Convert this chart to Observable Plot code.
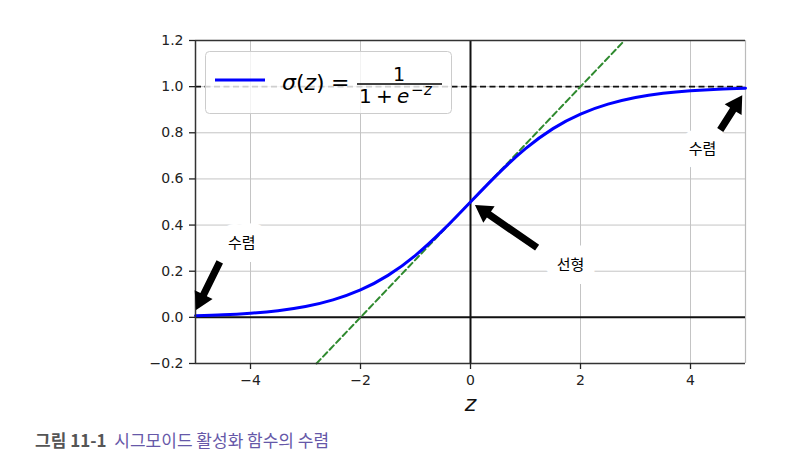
<!DOCTYPE html>
<html><head><meta charset="utf-8">
<script src="https://cdn.jsdelivr.net/npm/d3@7"></script>
<script src="https://cdn.jsdelivr.net/npm/@observablehq/plot@0.6"></script>
<style>
body{margin:0;background:#fff;}
#wrap{position:relative;width:808px;height:473px;overflow:hidden;}
#legend{position:absolute;left:0;top:0;pointer-events:none;}
#caption{position:absolute;left:35px;top:429px;font-family:"Noto Sans CJK KR","Noto Sans";font-size:17px;white-space:nowrap;line-height:22px;}
#caption b{color:#555;font-weight:700;margin-right:4px;}
#caption span{color:#6658a8;}
</style></head><body>
<div id="wrap"><div id="chart"></div>
<svg id="legend" width="808" height="420" font-family="DejaVu Sans">
  <rect x="205.5" y="51.5" width="246" height="62" rx="4" fill="white" fill-opacity="0.8" stroke="#cccccc"/>
  <line x1="215" x2="265" y1="80" y2="80" stroke="blue" stroke-width="3"/>
  <text y="90" font-size="22"><tspan x="282" font-style="italic">σ</tspan>(<tspan font-style="italic">z</tspan>)<tspan x="331">=</tspan></text>
  <line x1="357" x2="442" y1="84" y2="84" stroke="black" stroke-width="1.3"/>
  <text x="399" y="81" font-size="19" text-anchor="middle">1</text>
  <text y="103" font-size="20"><tspan x="359">1</tspan><tspan x="376">+</tspan><tspan x="397" font-style="italic">e</tspan></text>
  <text y="95" font-size="15"><tspan x="411">−</tspan><tspan x="424" font-style="italic">z</tspan></text>
</svg>
<div id="caption"><b>그림 11-1</b> <span>시그모이드 활성화 함수의 수렴</span></div>
</div>
<script>
// sigmoid
const sigZ = [-5,-4.5,-4,-3.5,-3,-2.5,-2,-1.5,-1,-0.5,0,0.5,1,1.5,2,2.5,3,3.5,4,4.5,5];
const sigY = [0.007,0.011,0.018,0.029,0.047,0.076,0.119,0.182,0.269,0.378,0.5,0.622,0.731,0.818,0.881,0.924,0.953,0.971,0.982,0.989,0.993];
// linear (tangent) dashed line endpoints
const linZ = [-2.8, 2.8];
const linY = [-0.2, 1.2];
// ticks
const xTicks = [-4,-2,0,2,4];
const yTicks = [-0.2,0,0.2,0.4,0.6,0.8,1.0,1.2];
// annotations
const annText = ["수렴","수렴","선형"];
const annZ = [-4.16, 4.22, 1.82];
const annY = [0.32, 0.73, 0.225];
const arrTailZ = [-4.55, 4.55, 1.22];
const arrTailY = [0.238, 0.81, 0.30];
const arrTipZ = [-4.98, 4.95, 0.09];
const arrTipY = [0.03, 0.96, 0.485];

const sig = sigZ.map((z,i)=>({z, y:sigY[i]}));
const lin = linZ.map((z,i)=>({z, y:linY[i]}));
const ann = annText.map((t,i)=>({t, z:annZ[i], y:annY[i]}));
const arrows = arrTailZ.map((z,i)=>({x1:z, y1:arrTailY[i], x2:arrTipZ[i], y2:arrTipY[i]}));

function arrowMark(data){
  return (index, scales) => {
    const g = d3.create("svg:g");
    const w = 3.6, hw = 10, hl = 17;
    for (const a of data){
      const x1 = scales.x(a.x1), y1 = scales.y(a.y1), x2 = scales.x(a.x2), y2 = scales.y(a.y2);
      const dx = x2-x1, dy = y2-y1, L = Math.hypot(dx,dy);
      const ux = dx/L, uy = dy/L, nx = -uy, ny = ux;
      const bx = x2-ux*hl, by = y2-uy*hl;
      const pts = [
        [x1+nx*w, y1+ny*w],[bx+nx*w, by+ny*w],[bx+nx*hw, by+ny*hw],[x2,y2],
        [bx-nx*hw, by-ny*hw],[bx-nx*w, by-ny*w],[x1-nx*w, y1-ny*w]
      ];
      g.append("polygon").attr("points", pts.map(p=>p.join(",")).join(" ")).attr("fill","black");
    }
    return g.node();
  };
}

const chart = Plot.plot({
  width: 808, height: 420,
  marginTop: 40, marginLeft: 195, marginRight: 63, marginBottom: 57,
  style: {fontFamily: "DejaVu Sans", fontSize: "14px", color: "#222", background: "white"},
  x: {domain: [-5, 5]},
  y: {domain: [-0.2, 1.2]},
  marks: [
    Plot.gridX(xTicks, {stroke: "#c4c4c4", strokeOpacity: 1, strokeWidth: 1}),
    Plot.gridY(yTicks, {stroke: "#c4c4c4", strokeOpacity: 1, strokeWidth: 1}),
    Plot.ruleX([5], {stroke: "#bbbbbb", strokeWidth: 1.2}),
    Plot.ruleY([1], {x1: -5, x2: 5, stroke: "#111", strokeWidth: 1.6, strokeDasharray: "6,3.5"}),
    Plot.ruleY([0], {x1: -5, x2: 5, stroke: "#111", strokeWidth: 2}),
    Plot.ruleX([0], {y1: -0.2, y2: 1.2, stroke: "#111", strokeWidth: 2}),
    Plot.line(lin, {x: "z", y: "y", stroke: "#2f8a2f", strokeWidth: 2, strokeDasharray: "6,3.5"}),
    Plot.line(sig, {x: "z", y: "y", stroke: "blue", strokeWidth: 3, curve: "natural"}),
    Plot.ruleX([-5], {stroke: "#333", strokeWidth: 1.5}),
    Plot.ruleY([1.2, -0.2], {stroke: "#333", strokeWidth: 1.5}),
    Plot.axisX(xTicks, {tickSize: 6, tickPadding: 6, label: null, fontSize: 14, strokeWidth: 1.3}),
    Plot.axisY(yTicks, {tickSize: 6, tickPadding: 6, label: null, fontSize: 14, strokeWidth: 1.3, tickFormat: d3.format(".1f")}),
    Plot.text(["z"], {frameAnchor: "bottom", lineAnchor: "middle", dy: 40, fontSize: 22, fontStyle: "italic", fill: "#111"}),
    Plot.text(ann, {x: "z", y: "y", text: "t", fontSize: 15, fontFamily: "Noto Sans CJK KR", fill: "black", stroke: "white", strokeWidth: 24}),
    arrowMark(arrows)
  ]
});
document.getElementById("chart").appendChild(chart);
</script>
</body></html>
